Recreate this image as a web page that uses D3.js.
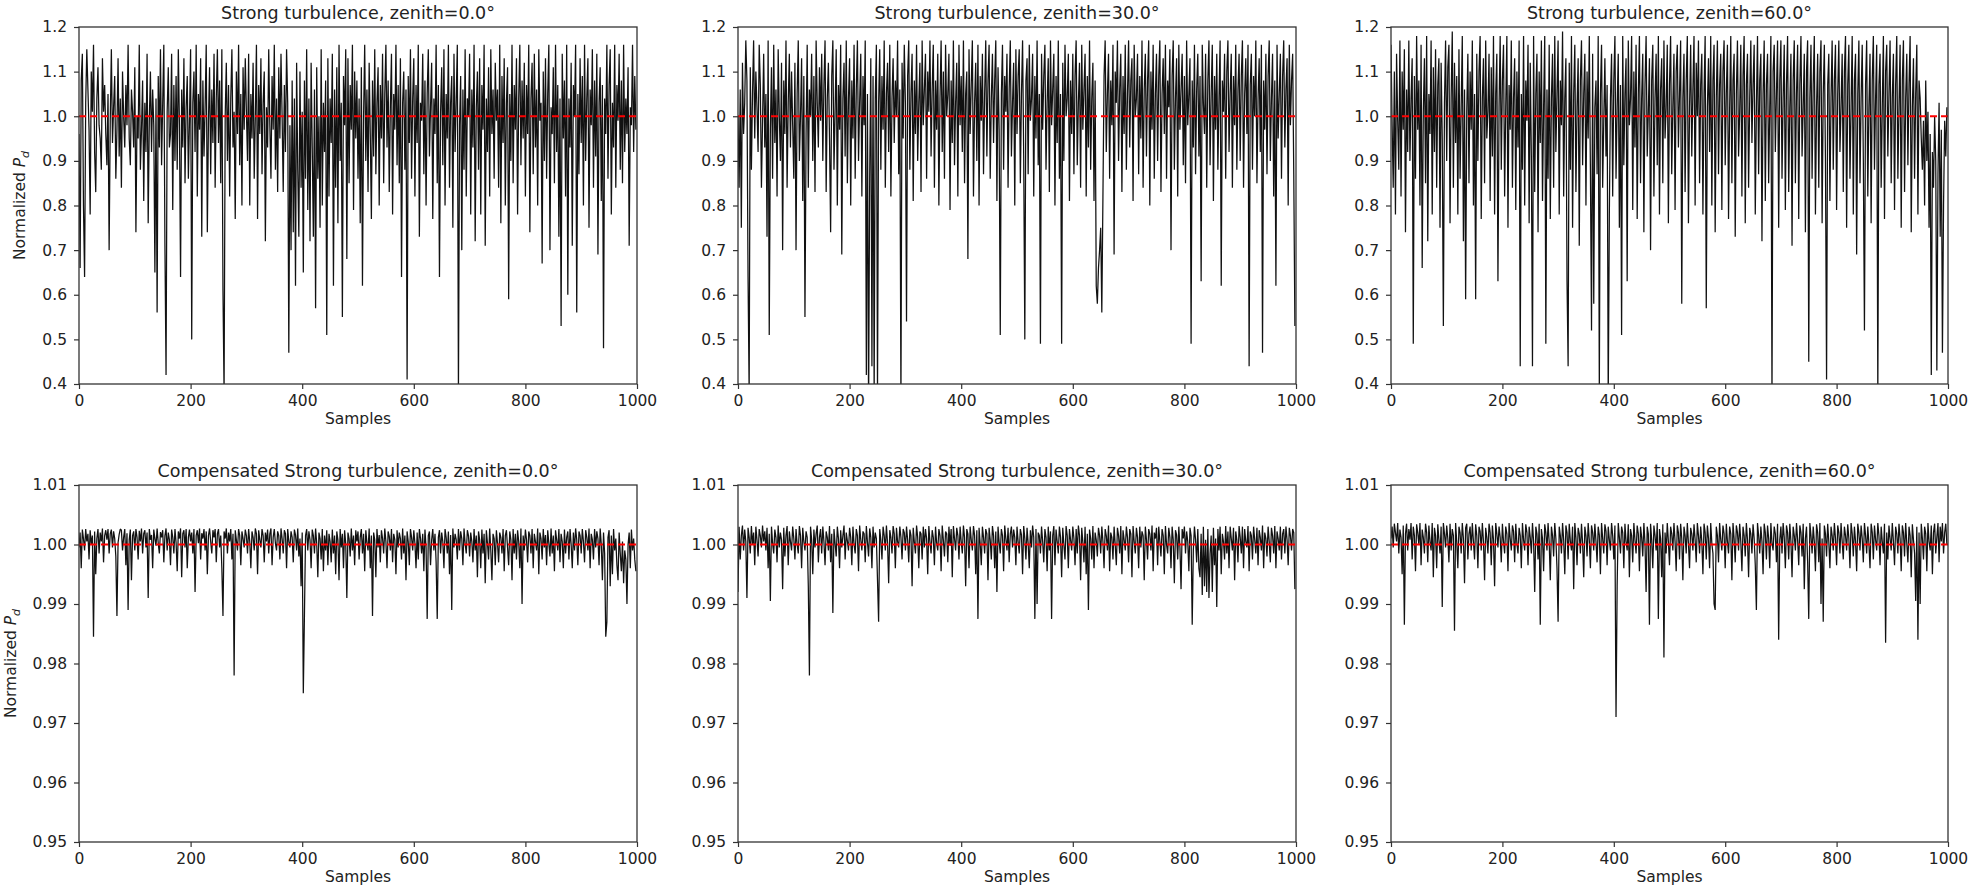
<!DOCTYPE html>
<html><head><meta charset="utf-8">
<script src="https://cdn.jsdelivr.net/npm/d3@7/dist/d3.min.js"></script>
<style>
body{margin:0;background:#fff}
text{font-family:"DejaVu Sans",sans-serif;fill:#222}
</style>
</head><body>
<svg id="chart" width="1969" height="896"></svg>
<script>
// ---- data (values stored as scaled integers; divide by the unit) ----
const sampleStep = 2;          // every value below is one plotted sample, 2 samples apart
const strongUnit = 100;        // strong turbulence: value = n / 100
const compUnit = 10000;        // compensated: value = n / 10000
const xTicks = [0,200,400,600,800,1000];
const strongYTicks = [0.4,0.5,0.6,0.7,0.8,0.9,1.0,1.1,1.2];
const compYTicks = [0.95,0.96,0.97,0.98,0.99,1.00,1.01];
const zeniths = [0.0, 30.0, 60.0];
const refLevel = 1.0;

const strongZ0 = [
96,66,108,114,80,64,103,115,106,97,78,110,101,116,92,83,104,111,98,95,88,113,101,107,96,
89,105,70,99,115,94,102,109,86,97,113,91,104,84,110,100,93,107,98,116,95,89,106,101,93,
111,74,100,95,116,88,97,108,81,103,92,114,76,99,110,92,106,98,65,104,56,109,93,115,89,
103,116,71,42,101,111,93,96,114,79,107,90,109,88,115,98,64,106,93,113,85,102,109,86,99,
115,50,103,110,92,116,82,105,97,113,73,108,91,102,116,74,99,111,87,106,94,114,84,104,115,
94,108,85,115,61,38,100,112,90,107,82,104,115,93,101,77,110,96,116,89,105,80,111,97,113,
101,90,114,80,105,95,112,86,100,116,77,107,96,113,87,103,110,72,102,93,115,98,86,109,97,
116,88,104,83,111,95,114,100,83,107,92,115,103,47,98,70,108,74,104,62,112,88,73,110,84,
101,65,108,86,115,79,104,72,112,93,73,106,57,111,86,100,75,115,80,103,92,108,51,113,82,
104,94,114,62,106,84,111,76,116,90,103,55,109,98,115,68,113,85,107,97,116,79,110,95,108,
86,104,76,111,62,100,116,90,106,83,112,96,77,108,91,115,87,103,111,80,107,95,114,85,105,
116,93,108,83,102,114,78,105,97,116,89,107,85,113,64,103,110,88,106,41,109,94,115,86,104,
113,82,107,94,116,73,103,99,114,87,108,80,105,115,91,102,112,77,104,96,116,85,107,64,101,
111,89,115,80,105,95,116,84,103,109,75,114,92,104,116,38,98,109,70,106,88,115,82,104,100,
114,78,106,93,116,72,102,110,88,113,78,107,97,116,71,104,92,111,82,115,96,106,86,112,99,
106,84,116,76,109,94,113,80,103,111,59,105,90,116,85,107,97,113,78,104,116,89,108,95,112,
82,107,96,116,74,104,112,87,114,93,106,80,115,99,103,67,110,90,113,86,105,116,70,102,96,
111,85,116,92,107,73,104,53,114,95,108,82,116,60,104,93,112,71,107,100,116,56,105,87,113,
94,109,80,116,90,104,113,75,106,98,115,84,108,91,114,69,103,111,81,107,48,104,96,116,86,
107,115,78,103,93,116,84,107,99,114,88,108,85,116,92,104,96,111,71,102,98,116,92,109,97];

const strongZ30 = [
100,84,106,75,112,96,103,117,108,64,38,111,88,105,117,95,110,102,92,116,107,84,99,114,93,
105,73,117,51,97,111,86,116,94,106,82,115,100,90,112,70,108,96,117,84,103,114,93,110,98,
86,112,70,105,117,90,100,113,81,109,55,96,116,84,106,100,114,90,109,83,117,103,93,111,99,
114,90,107,117,83,104,112,95,74,109,117,88,101,115,80,107,97,116,69,104,112,91,117,85,104,
113,80,108,95,116,86,106,117,90,103,114,82,109,98,117,42,105,34,86,113,44,109,37,104,116,
38,103,115,88,109,97,117,84,105,112,92,116,82,104,113,94,108,100,117,87,106,36,112,95,116,
103,54,109,117,88,105,114,81,108,96,116,90,103,112,83,117,98,106,114,86,110,101,117,91,106,
116,84,108,97,114,80,104,117,92,110,86,116,100,105,114,79,108,94,117,89,103,112,82,116,98,
109,92,117,85,105,110,68,115,96,107,117,82,103,112,90,116,80,109,99,114,87,105,117,91,108,
116,86,104,114,94,108,117,81,111,97,51,105,116,88,109,101,114,84,106,117,91,103,112,80,115,
96,109,115,85,105,117,91,50,108,113,87,116,99,104,114,82,109,95,117,89,105,49,114,97,109,
116,88,103,113,83,117,98,106,114,80,109,94,117,86,105,49,112,90,116,100,104,114,81,108,96,
114,87,109,117,89,103,112,84,116,97,106,114,82,109,93,117,88,104,112,81,108,62,58,66,70,
75,56,82,109,117,92,105,114,86,108,98,116,69,110,103,117,90,106,114,83,109,96,116,88,105,
117,93,108,113,81,116,100,104,114,87,109,95,117,84,106,114,91,108,117,80,110,97,116,86,105,
114,90,109,117,83,105,113,96,116,86,108,102,115,70,109,117,88,104,113,82,116,97,106,114,89,
109,85,117,98,105,113,49,108,93,116,87,106,114,91,109,63,116,103,96,114,84,108,117,89,105,
116,81,109,97,114,88,104,117,62,108,101,114,86,110,117,92,105,114,84,109,98,116,88,106,114,
90,109,117,84,105,113,96,116,44,107,114,88,109,100,117,85,104,113,92,116,47,108,97,114,87,
109,117,90,104,114,82,108,62,116,95,105,114,86,109,117,93,106,113,80,116,98,108,114,87,53];

const strongZ60 = [
116,98,84,110,78,114,99,88,117,82,110,97,115,74,106,92,117,90,104,113,49,109,86,118,97,
108,80,116,66,101,113,85,118,72,105,96,117,78,111,92,115,84,107,113,75,112,95,53,103,117,
90,111,116,76,104,119,84,112,94,109,78,115,86,102,118,72,106,59,101,114,85,110,97,117,80,
105,59,114,90,110,118,77,104,113,85,117,95,101,114,81,111,91,118,78,105,114,63,102,118,88,
108,116,82,102,118,75,107,97,117,84,104,113,79,110,93,117,44,105,88,118,80,108,99,116,76,
112,91,44,118,83,105,114,74,110,94,117,81,102,118,49,106,86,116,77,104,114,84,118,92,105,
117,78,108,98,119,82,104,113,63,44,112,88,118,75,105,116,83,102,113,71,108,117,89,105,114,
80,110,95,118,88,52,114,58,102,108,87,118,38,105,116,84,99,113,91,107,36,78,104,114,82,
108,118,86,102,114,75,107,51,118,89,105,113,63,117,98,104,118,79,110,93,116,77,105,118,85,
104,114,74,107,118,91,101,113,70,108,116,82,104,114,89,118,78,106,113,85,117,95,102,116,76,
107,118,87,102,114,79,110,116,93,105,117,58,104,114,83,108,118,76,102,116,91,106,118,80,112,
100,117,85,107,114,78,105,118,57,102,113,92,118,80,108,116,74,104,117,87,107,114,79,110,117,
89,105,116,77,102,118,85,108,114,73,105,117,91,101,116,82,109,118,76,107,114,84,104,117,94,
107,116,78,102,118,87,108,114,72,105,117,81,107,114,85,102,118,37,110,116,92,105,117,75,108,
117,86,104,116,79,107,118,83,102,114,71,108,117,85,105,116,77,107,118,91,102,114,74,110,117,
45,104,116,86,107,118,78,102,114,84,110,117,76,105,116,90,41,107,114,81,104,117,88,108,116,
79,105,117,92,102,114,83,110,118,75,107,116,86,102,118,78,108,114,69,105,117,85,104,116,90,
52,107,117,82,102,114,76,108,118,88,104,116,37,107,114,84,102,118,77,110,116,91,105,117,85,
104,114,79,107,118,86,102,116,75,108,117,83,104,114,89,107,118,74,102,113,86,105,116,78,108,
104,95,88,99,80,108,90,101,75,96,42,92,84,100,90,43,87,103,73,97,47,80,99,91,102];

const compZ0 = [
9995,10020,9960,10025,10010,9990,10026,10005,10018,9975,10024,10000,10015,9845,10022,9950,10010,10026,9985,10020,10005,10027,9970,10015,10024,
10008,10026,9985,10018,10025,9995,10022,10010,9980,9880,10003,10017,10026,10024,9990,10012,10026,9965,10019,9890,10008,10025,9940,10015,10022,
9990,10026,10012,9975,10023,10005,10027,9985,10018,10024,9995,10020,9910,10026,10008,10016,9960,10025,10010,9998,10027,10002,9985,10021,10012,
10024,9970,10015,10027,9990,10020,10008,9965,10025,10012,9985,10026,10003,9955,10022,10010,10027,9945,10018,10024,9995,10026,9960,10012,10025,
10005,10020,9985,10026,9920,10015,10024,10002,10027,9975,10019,10010,10026,9990,10022,9950,10015,10027,10005,9985,10024,10012,10026,9970,10018,
10026,9995,10015,9960,9880,10022,10010,10027,9985,10020,10005,10026,9975,10018,9780,10024,10008,9990,10026,10015,9965,10022,10010,9995,10025,
10015,9985,10026,10005,9960,10022,10012,9990,10027,10018,9950,10024,10008,9995,10026,10015,9970,10020,10005,10025,9985,10018,10027,9965,10012,
10026,10002,9990,10022,10015,9975,10027,10010,9985,10024,10018,9960,10026,10005,9995,10022,10012,9970,10025,10016,9990,10027,9980,10010,9930,
10020,9750,9880,10015,10026,9990,10022,10008,9960,10025,10015,9985,10027,10002,9945,10020,10010,9975,10026,9955,10015,9990,10024,9965,10018,
10005,9970,10025,9985,10015,9950,10022,10008,9940,10026,9995,10018,9960,10024,10002,9910,10020,10010,9980,10027,9990,10015,9965,10024,10005,
10022,9975,10012,10026,9985,10018,9955,10024,10003,9990,10027,9960,10015,9880,10020,10008,9945,10026,9995,10016,9970,10024,10010,9985,10027,
10005,9960,10022,10014,9990,10026,9970,10018,10008,9950,10024,9995,10020,10010,9975,10027,9985,10015,9940,10022,10005,9965,10026,10012,9990,
10024,10002,9960,10020,9975,10026,10010,9985,10018,9955,10025,9995,9875,10015,10022,9965,10008,10026,9990,10018,9970,9875,10012,10024,9985,
10020,10005,9960,10026,10012,9985,10022,9950,10016,9890,10027,9995,10018,10008,9975,10026,9990,10022,10010,9965,10027,10002,9985,10024,10015,
9980,10020,10005,9970,10026,9990,10015,9945,10022,10008,9960,10025,9985,10018,9935,10024,10002,9975,10027,9990,9940,10018,10010,9965,10024,
10002,9970,10020,10012,9985,10026,9955,10015,10024,9995,9965,10022,10008,9940,10026,9985,10018,9975,10024,10005,9960,10027,9900,10015,9990,
10025,10008,9970,10022,10015,9985,10026,9960,10018,10005,9990,10027,9950,10020,10010,9975,10026,9995,10016,9965,10024,10002,9980,10027,9985,
10015,9955,10024,10008,9990,10026,9970,10018,10005,9960,10025,9985,10012,10022,9975,10026,10000,9960,10020,9990,10027,10008,9965,10022,10015,
9985,10026,10005,9970,10024,10012,9990,10027,9960,10018,10008,9975,10026,9995,10022,10010,9965,10027,10000,9940,10020,9985,9845,9870,10012,
10024,9930,10015,9950,10026,9990,10010,9965,9940,10020,9985,9955,10005,9935,9990,9975,9900,10000,10020,9960,10025,9990,10010,9975,9955];

const compZ30 = [
9920,10030,9975,10015,10032,9990,10025,10005,9910,10028,10012,9985,10031,10000,10020,9965,10030,10008,9980,10026,10015,9995,10032,10005,10022,
9990,10028,9960,10018,9905,10030,10002,9985,10025,10012,9970,10032,9995,10020,10008,9925,10028,9980,10015,10031,9965,10022,10005,9990,10030,
10010,9975,10026,10000,9985,10031,10015,9960,10028,10005,9990,10022,10012,9930,9780,10030,10008,9950,10025,9995,10018,10032,9970,10012,10026,
9985,10030,10005,9965,10022,10012,9990,10031,9970,10018,9885,10026,10002,9980,10030,10010,9960,10024,9995,10015,10032,9975,10020,10006,9990,
10028,10012,9965,10030,10000,9985,10026,10015,9955,10032,10008,9990,10022,10018,9970,10031,10004,9980,10027,10012,9960,10030,9995,10020,10010,
9940,9870,10026,10008,9975,10030,10015,9990,10032,10002,9935,10024,10012,9985,10031,10018,9960,10028,10005,9995,10030,10012,9975,10026,10020,
9990,10030,10008,9970,10025,10015,9930,10028,10004,9985,10032,10012,9960,10022,10018,9975,10030,9995,10026,10010,9950,10031,10005,9985,10024,
10012,9965,10030,10002,9990,10026,10015,9955,10032,10008,9980,10022,10018,9970,10030,9998,10026,9945,10031,10010,9990,10028,10015,9975,10030,
10005,9985,10032,10012,9930,10026,10018,9960,10030,10008,9990,10031,10015,9950,10024,9875,10028,10002,9965,10030,10012,9985,10026,10018,9940,
10028,10008,9975,10031,10015,9960,10022,9920,10030,10004,9985,10026,10015,9955,10032,10010,9990,10028,9970,10018,10030,9995,10025,10012,9965,
10030,10005,9985,10026,10016,9950,10031,10010,9975,10028,10002,9960,10024,9995,10032,10012,9875,10026,9900,10020,10015,9985,10030,10005,9970,
10026,10012,9955,10030,9990,10022,9875,10015,10031,9965,10025,10005,9985,10030,10012,9945,10028,10000,9975,10031,10015,9960,10026,10008,9990,
10030,10010,9965,10026,9985,10032,10015,9940,10028,10004,9970,10030,9950,10018,9890,10025,10010,9975,10031,9960,10020,10008,9980,10028,10015,
9985,10030,10005,9960,10026,10015,9990,10032,9955,10020,10012,9975,10030,10000,9965,10028,10015,9985,10031,9950,10024,10008,9990,10030,10012,
9970,10026,10018,9945,10031,10005,9985,10028,10012,9960,10030,9995,10022,10015,9940,10030,10008,9975,10026,10018,9990,10032,9955,10020,10010,
10028,9965,10030,10005,9980,10026,10015,9950,10031,10000,9985,10028,10012,9960,10030,10008,9935,10024,10016,9975,10030,9995,9925,10026,10010,
10030,9985,10022,10005,9955,10028,10015,9865,9990,10030,10008,9970,10026,9960,9945,10018,9915,10030,9930,10008,9920,10026,9910,9985,10015,
9920,10028,9965,10010,9895,10026,9990,10030,9950,10018,10005,9975,10031,9985,10022,9960,10030,10010,9990,10028,9940,10022,10008,9970,10031,
10012,9985,10030,9960,10026,10005,9995,10031,9955,10022,10015,9975,10030,10008,9985,10028,9965,10024,10012,9990,10032,9960,10020,10010,9980,
10030,10005,9970,10028,10015,9985,10031,9960,10022,10010,9990,10030,9975,10018,10026,9985,10030,10008,9965,10028,10015,9990,10026,10020,9925];

const compZ60 = [
10010,10030,9995,10035,10020,10005,10036,9985,10025,10012,9950,10032,9865,10018,10035,9990,10026,10008,10036,9975,10030,10015,9955,10034,10020,
10000,10036,9965,10025,10012,9985,10035,10020,9970,10032,10005,9990,10036,9945,10028,10015,9960,10034,10008,9985,10030,9895,10036,10018,9995,
10032,10010,9970,10035,9990,10026,10015,9855,10036,10005,9960,10030,10020,9985,10036,10010,9935,10028,10035,9975,10018,10030,9990,10036,10005,
9975,10034,10015,9960,10030,10022,9990,10036,10005,9940,10028,10012,9985,10035,10020,9965,10032,10008,9930,10036,10018,9995,10030,10012,9970,
10035,10005,9985,10030,10018,9955,10036,10010,9990,10032,10022,9970,10035,10002,9985,10028,10015,9960,10036,10008,9990,10034,10020,9965,10030,
10012,9985,10036,10005,9920,10030,10018,9975,10035,9865,10026,10010,9955,10034,10020,9990,10036,10004,9940,10030,10015,9980,10036,10010,9960,
9870,10030,10015,9985,10036,10008,9950,10032,10020,9975,10035,10005,9990,10030,9925,10036,10012,9965,10028,10018,9985,10035,10002,9945,10030,
10015,9980,10036,10008,9960,10032,10020,9990,10035,10005,9970,10030,10016,9950,10036,10010,9985,10034,10022,9965,10030,10008,9990,10036,10015,
9975,10032,9710,9930,10036,10012,9985,10030,10020,9960,10035,10005,9990,10034,9945,10026,10015,9970,10036,10008,9985,10032,10018,9955,10030,
10012,9980,10036,10002,9920,10030,10018,9865,10035,10008,9960,10032,10015,9990,10036,9875,10026,10010,9945,10034,9810,10020,9985,10036,10005,
9965,10030,10018,9990,10036,10005,9955,10032,10020,9975,10035,10010,9940,10030,10015,9985,10036,10002,9960,10028,10018,9990,10034,10008,9970,
10036,10015,9985,10030,10005,9950,10035,10020,9975,10032,10010,9960,10036,10002,9985,9900,9890,10030,10015,9970,10036,10008,9990,10032,10018,
9960,10035,10005,9985,10030,10018,9940,10036,10010,9970,10032,10020,9990,10035,10005,9955,10030,10015,9980,10036,10008,9945,10028,10018,9985,
10034,10010,9965,9890,10036,10015,9985,10030,10005,9950,10035,10020,9975,10032,10010,9960,10036,10002,9990,10030,10018,9970,10035,9840,10008,
10030,9985,10036,10012,9960,10032,10020,9975,10035,10005,9945,10030,10015,9990,10036,10008,9965,10032,10020,9980,10035,9925,10010,10030,9970,
9875,10036,10015,9985,10030,10005,9955,10034,10020,9970,10036,9900,10010,9870,10032,10018,9980,10035,10005,9960,10030,10015,9990,10036,10010,
9965,10032,10020,9985,10036,10005,9975,10030,10015,9990,10034,10010,9960,10036,10018,9980,10030,10005,9955,10035,10020,9990,10032,10010,9970,
10036,10015,9985,10030,10002,9960,10035,10020,9975,10032,10008,9990,10036,10015,9965,10030,10005,9985,10035,9835,10020,9975,10032,10010,9990,
10036,10005,9965,10030,10018,9985,10035,10010,9955,10032,10020,9980,10036,10002,9970,10030,10015,9945,10034,10008,9985,9905,10030,9840,10020,
9900,10035,10010,9975,10030,10018,9955,10036,10005,9990,10032,9950,10020,10035,9985,10012,10036,9970,10030,10005,10036,9985,10020,10035,10000];

// ---- layout ----
const colX = [[79,637],[738,1296],[1391,1948]];
const rowY = [[27,384],[485,842]];

const panels = [
  {row:0,col:0,data:strongZ0,unit:strongUnit,ticks:strongYTicks,fmt:".1f",title:"Strong turbulence, zenith="+zeniths[0].toFixed(1)+"°"},
  {row:0,col:1,data:strongZ30,unit:strongUnit,ticks:strongYTicks,fmt:".1f",title:"Strong turbulence, zenith="+zeniths[1].toFixed(1)+"°"},
  {row:0,col:2,data:strongZ60,unit:strongUnit,ticks:strongYTicks,fmt:".1f",title:"Strong turbulence, zenith="+zeniths[2].toFixed(1)+"°"},
  {row:1,col:0,data:compZ0,unit:compUnit,ticks:compYTicks,fmt:".2f",title:"Compensated Strong turbulence, zenith="+zeniths[0].toFixed(1)+"°"},
  {row:1,col:1,data:compZ30,unit:compUnit,ticks:compYTicks,fmt:".2f",title:"Compensated Strong turbulence, zenith="+zeniths[1].toFixed(1)+"°"},
  {row:1,col:2,data:compZ60,unit:compUnit,ticks:compYTicks,fmt:".2f",title:"Compensated Strong turbulence, zenith="+zeniths[2].toFixed(1)+"°"}
];

const svg = d3.select("#chart");

panels.forEach((p,k)=>{
  const [x0,x1] = colX[p.col], [y0,y1] = rowY[p.row];
  const x = d3.scaleLinear().domain([0,1000]).range([x0,x1]);
  const yDom = [p.ticks[0], p.ticks[p.ticks.length-1]];
  const y = d3.scaleLinear().domain(yDom).range([y1,y0]);
  const g = svg.append("g");

  const clipId = "clip"+k;
  g.append("clipPath").attr("id",clipId).append("rect")
    .attr("x",x0).attr("y",y0).attr("width",x1-x0).attr("height",y1-y0);

  const pts = p.data.map((v,i)=>[i*sampleStep, v/p.unit]);
  const line = d3.line().x(d=>x(d[0])).y(d=>y(d[1]));
  g.append("path").attr("clip-path","url(#"+clipId+")")
    .attr("d",line(pts)).attr("fill","none")
    .attr("stroke","#111").attr("stroke-width",1.25).attr("stroke-linejoin","bevel");

  g.append("line").attr("clip-path","url(#"+clipId+")")
    .attr("x1",x(0)).attr("x2",x(1000)).attr("y1",y(refLevel)).attr("y2",y(refLevel))
    .attr("stroke","#ff0000").attr("stroke-width",2).attr("stroke-dasharray","7,4");

  const xa = g.append("g").attr("transform","translate(0,"+y1+")")
    .call(d3.axisBottom(x).tickValues(xTicks).tickSize(5).tickSizeOuter(0).tickPadding(6).tickFormat(d3.format("d")));
  const ya = g.append("g").attr("transform","translate("+x0+",0)")
    .call(d3.axisLeft(y).tickValues(p.ticks).tickSize(5).tickSizeOuter(0).tickPadding(7).tickFormat(d3.format(p.fmt)));
  [xa,ya].forEach(a=>{
    a.select(".domain").remove();
    a.selectAll("line").attr("stroke","#333").attr("stroke-width",1.2);
    a.selectAll("text").attr("font-size",15.5).attr("font-family","DejaVu Sans").attr("fill","#222");
  });

  g.append("rect").attr("x",x0).attr("y",y0).attr("width",x1-x0).attr("height",y1-y0)
    .attr("fill","none").attr("stroke","#333").attr("stroke-width",1.3);

  g.append("text").attr("x",(x0+x1)/2).attr("y",y0-8).attr("text-anchor","middle")
    .attr("font-size",17.5).text(p.title);

  g.append("text").attr("x",(x0+x1)/2).attr("y",y1+40).attr("text-anchor","middle")
    .attr("font-size",15.5).text("Samples");

  if(p.col===0){
    const lx = p.row===0 ? 25 : 16;
    const t = g.append("text").attr("transform","translate("+lx+","+((y0+y1)/2)+") rotate(-90)")
      .attr("text-anchor","middle").attr("font-size",15.5);
    t.append("tspan").text("Normalized ");
    t.append("tspan").attr("font-style","italic").text("P");
    t.append("tspan").attr("font-style","italic").attr("font-size",11).attr("dy",4).text("d");
  }
});
</script>
</body></html>
